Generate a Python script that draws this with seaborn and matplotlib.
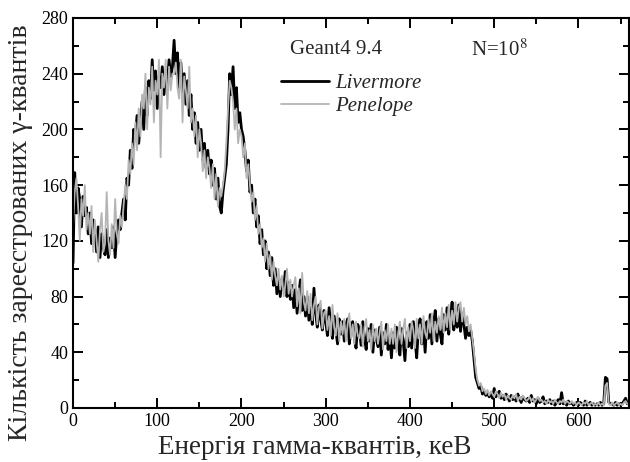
import matplotlib
matplotlib.use("Agg")
import matplotlib.pyplot as plt
import numpy as np
import pandas as pd
import seaborn as sns
from matplotlib.ticker import MultipleLocator

# energy bins, keV (2 keV step)
energy = list(range(0, 662, 2))

# Livermore counts
livermore = [
    104, 169, 140, 158, 150, 130, 152, 138, 144, 125,
    140, 118, 135, 128, 112, 130, 108, 125, 115, 110,
    128, 108, 122, 115, 130, 108, 126, 135, 128, 140,
    150, 135, 165, 160, 185, 172, 200, 195, 210, 190,
    205, 220, 200, 230, 210, 235, 222, 250, 228, 242,
    215, 238, 230, 245, 225, 240, 232, 250, 238, 245,
    264, 240, 255, 230, 248, 225, 240, 218, 235, 210,
    225, 200, 212, 190, 205, 185, 200, 178, 190, 172,
    185, 168, 178, 160, 172, 150, 165, 145, 140, 155,
    165, 175, 200, 240, 225, 245, 215, 230, 205, 212,
    200, 195, 185, 170, 178, 155, 160, 140, 150, 130,
    138, 118, 128, 110, 120, 100, 112, 95, 108, 88,
    100, 82, 95, 80, 92, 85, 98, 80, 90, 78,
    88, 72, 85, 68, 82, 92, 70, 80, 66, 80,
    63, 76, 60, 86, 68, 58, 74, 64, 56, 70,
    62, 52, 72, 58, 50, 66, 56, 46, 64, 53,
    62, 48, 60, 64, 46, 57, 62, 50, 43, 60,
    56, 45, 62, 50, 42, 57, 48, 60, 40, 56,
    50, 44, 58, 38, 54, 46, 60, 42, 52, 36,
    54, 43, 58, 46, 38, 57, 48, 34, 54, 44,
    60, 43, 62, 48, 36, 57, 64, 46, 58, 40,
    62, 50, 67, 46, 60, 70, 48, 64, 53, 46,
    67, 56, 72, 53, 64, 76, 56, 68, 58, 74,
    55, 68, 60, 50, 58, 52, 56, 48, 35, 22,
    18, 14, 16, 10, 12, 9, 11, 8, 10, 7,
    14, 8, 10, 12, 7, 9, 6, 10, 8, 5,
    9, 6, 8, 5, 10, 7, 4, 8, 6, 5,
    7, 4, 9, 5, 6, 3, 7, 4, 5, 8,
    3, 5, 4, 6, 3, 5, 2, 4, 6, 3,
    11, 3, 4, 2, 5, 3, 4, 2, 3, 4,
    2, 4, 3, 2, 5, 2, 3, 4, 2, 3,
    2, 3, 2, 4, 2, 3, 22, 21, 4, 3,
    3, 2, 4, 2, 3, 2, 3, 5, 7, 3,
    4,
]

# Penelope counts
penelope = [
    130, 155, 165, 145, 120, 150, 138, 160, 128, 140,
    125, 145, 112, 135, 120, 105, 128, 140, 112, 118,
    155, 120, 110, 132, 115, 150, 125, 118, 138, 130,
    145, 160, 150, 178, 168, 190, 175, 205, 185, 215,
    195, 225, 215, 240, 200, 230, 218, 245, 205, 235,
    225, 250, 180, 240, 230, 250, 215, 245, 228, 240,
    240, 248, 230, 222, 250, 205, 238, 228, 215, 245,
    205, 215, 195, 210, 180, 200, 190, 170, 185, 165,
    180, 172, 158, 175, 150, 168, 145, 158, 152, 160,
    170, 190, 215, 235, 230, 220, 200, 215, 190, 200,
    195, 180, 190, 165, 175, 160, 148, 155, 135, 145,
    125, 132, 115, 122, 105, 118, 100, 110, 92, 105,
    95, 88, 100, 85, 95, 80, 88, 100, 82, 92,
    80, 88, 94, 73, 86, 68, 97, 76, 70, 84,
    68, 82, 63, 74, 80, 60, 72, 77, 57, 68,
    70, 56, 66, 52, 74, 58, 52, 68, 48, 62,
    53, 64, 48, 60, 68, 50, 60, 46, 62, 52,
    50, 60, 44, 58, 64, 48, 56, 42, 60, 48,
    57, 46, 54, 62, 42, 56, 48, 60, 46, 57,
    46, 60, 40, 54, 62, 46, 57, 64, 43, 58,
    48, 62, 56, 43, 64, 50, 60, 46, 66, 54,
    50, 64, 54, 68, 48, 62, 54, 66, 56, 72,
    54, 68, 58, 74, 56, 70, 60, 76, 62, 72,
    76, 62, 72, 60, 66, 55, 60, 50, 40, 28,
    20, 16, 18, 12, 14, 10, 13, 9, 12, 10,
    8, 12, 10, 7, 11, 8, 10, 6, 9, 7,
    6, 9, 7, 10, 5, 8, 6, 9, 7, 5,
    6, 8, 5, 7, 4, 6, 8, 5, 6, 4,
    5, 3, 6, 4, 5, 3, 6, 4, 3, 5,
    4, 6, 3, 5, 4, 3, 5, 3, 4, 2,
    4, 3, 2, 4, 3, 5, 2, 3, 4, 2,
    3, 2, 4, 2, 3, 2, 16, 18, 3, 2,
    4, 2, 3, 4, 2, 3, 2, 4, 5, 3,
    3,
]

sns.set_style("ticks")
plt.rcParams['font.family'] = ['Liberation Serif', 'DejaVu Serif']
plt.rcParams['mathtext.fontset'] = 'stix'

df = pd.DataFrame({'E': energy, 'Livermore': livermore, 'Penelope': penelope})

fig = plt.figure(figsize=(6.3, 4.62), dpi=100)
ax = fig.add_axes([0.1159, 0.1169, 0.8825, 0.8442])

sns.lineplot(data=df, x='E', y='Livermore', ax=ax, color='black', lw=2.0,
             label='Livermore')
sns.lineplot(data=df, x='E', y='Penelope', ax=ax, color='#b4b4b4', lw=1.3,
             label='Penelope')

ax.set_xlim(0, 660)
ax.set_ylim(0, 280)
ax.xaxis.set_major_locator(MultipleLocator(100))
ax.xaxis.set_minor_locator(MultipleLocator(50))
ax.yaxis.set_major_locator(MultipleLocator(40))
ax.yaxis.set_minor_locator(MultipleLocator(20))
ax.tick_params(which='both', direction='in', top=True, right=True,
               labelsize=13, width=1.4, colors='black')
ax.tick_params(which='major', length=7)
ax.tick_params(which='minor', length=4)
for s in ax.spines.values():
    s.set_linewidth(1.5)
    s.set_color('black')

ax.set_xlabel('Енергія гамма-квантів, кеВ', fontsize=19.5)
ax.set_ylabel('Кількість зареєстрованих γ-квантів', fontsize=20)
ax.xaxis.set_label_coords(0.435, -0.068)
ax.yaxis.set_label_coords(-0.072, 0.45)

ax.text(0.39, 0.918, 'Geant4 9.4', transform=ax.transAxes, fontsize=15,
        va='center', ha='left')
ax.text(0.715, 0.918, r'N=10$^{8}$', transform=ax.transAxes, fontsize=15,
        va='center', ha='left')

leg = ax.legend(loc='upper left', bbox_to_anchor=(0.374, 0.857), frameon=False,
                fontsize=15, handlelength=2.3, handletextpad=0.3,
                borderaxespad=0, borderpad=0, labelspacing=0.15)
for t in leg.get_texts():
    t.set_fontstyle('italic')

fig.savefig('out.png', dpi=100)
